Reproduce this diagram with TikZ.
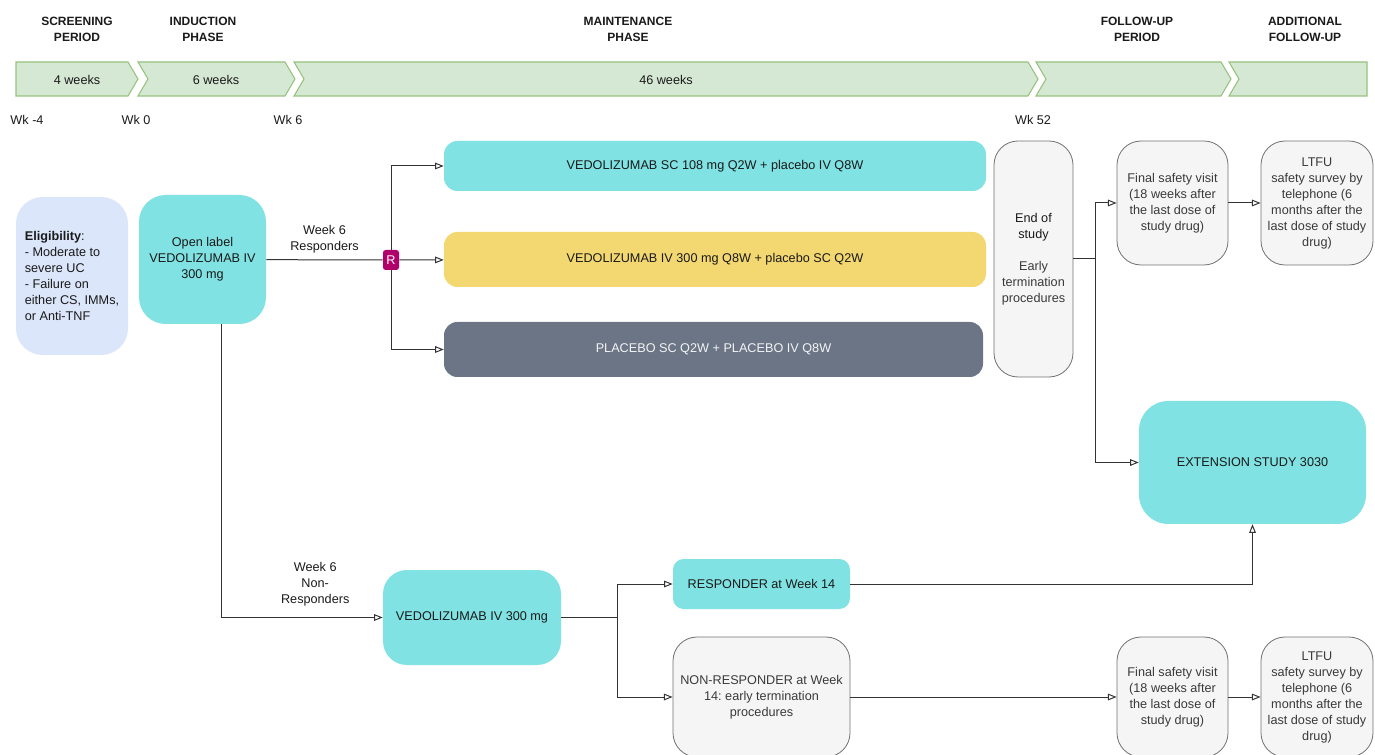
\documentclass[tikz,border=0pt]{standalone}
\usepackage{fontspec}
\setmainfont{Liberation Sans}
\usetikzlibrary{arrows.meta}
\frenchspacing

\definecolor{ink}{HTML}{1A1A1A}
\definecolor{greyink}{HTML}{3A3A3A}
\definecolor{barfill}{HTML}{D5E8D4}
\definecolor{barline}{HTML}{97C27E}
\definecolor{teal}{HTML}{80E2E2}
\definecolor{gold}{HTML}{F3D771}
\definecolor{slate}{HTML}{6B7585}
\definecolor{paleblue}{HTML}{DCE6FA}
\definecolor{offwhite}{HTML}{F5F5F5}
\definecolor{edge}{HTML}{707070}
\definecolor{magenta}{HTML}{B0006A}
\definecolor{wire}{HTML}{333333}

\tikzset{every node/.style={font=\fontsize{9.5}{12}\selectfont,text=ink,inner sep=0pt,align=center}}
\tikzset{head/.style={font=\bfseries\fontsize{9}{12}\selectfont}}
\tikzset{bar/.style={fill=barfill,draw=barline,line width=0.8pt}}
\tikzset{tealbox/.style={fill=teal,draw=none}}
\tikzset{greybox/.style={fill=offwhite,draw=edge,line width=0.6pt,text=greyink,rounded corners=18pt}}
\tikzset{arr/.style={draw=wire,line width=0.75pt,-{Triangle[open,length=6.5pt,width=5pt]}}}
\tikzset{wire/.style={draw=wire,line width=0.75pt}}

\begin{document}
\begin{tikzpicture}[x=0.75pt,y=-0.75pt]
      \useasboundingbox (0,0) rectangle (1375,755);

      % timeline
      \filldraw[bar] (16,62) -- (128,62) -- (138,79) -- (128,96) -- (16,96) -- cycle;
      \filldraw[bar] (138,62) -- (285,62) -- (295,79) -- (285,96) -- (138,96) -- (148,79) -- cycle;
      \filldraw[bar] (294,62) -- (1028,62) -- (1038,79) -- (1028,96) -- (294,96) -- (304,79) -- cycle;
      \filldraw[bar] (1036,62) -- (1221,62) -- (1231,79) -- (1221,96) -- (1036,96) -- (1046,79) -- cycle;
      \filldraw[bar] (1229,62) -- (1367,62) -- (1367,96) -- (1229,96) -- (1239,79) -- cycle;

      \node (scrwk) at (77,80) {4 weeks};
      \node (indwk) at (216,80) {6 weeks};
      \node (mntwk) at (666,80) {46 weeks};

      \node[head] (scr) at (77,29) {SCREENING\\PERIOD};
      \node[head] (ind) at (203,29) {INDUCTION\\PHASE};
      \node[head] (mnt) at (628,29) {MAINTENANCE\\PHASE};
      \node[head] (fu) at (1137,29) {FOLLOW-UP\\PERIOD};
      \node[head] (afu) at (1305,29) {ADDITIONAL\\FOLLOW-UP};

      \node (wkA) at (27,120) {Wk -4};
      \node (wkB) at (136,120) {Wk 0};
      \node (wkC) at (288,120) {Wk 6};
      \node (wkD) at (1033,120) {Wk 52};

      % boxes
      \node[fill=paleblue,rounded corners=20pt,minimum width=84pt,minimum height=118.5pt,align=left] (elig) at (72,276)
        {\textbf{Eligibility}:\\- Moderate to\\severe UC\\- Failure on\\either CS, IMMs,\\or Anti-TNF};
      \node[tealbox,rounded corners=20pt,minimum width=95.25pt,minimum height=96.75pt] (induct) at (202.5,259.5)
        {Open label\\VEDOLIZUMAB IV\\300 mg};
      \node[fill=magenta,rounded corners=2pt,minimum width=12pt,minimum height=15pt,text=white] (rand) at (391,260) {R};

      \node[tealbox,rounded corners=10pt,minimum width=406.5pt,minimum height=37.5pt] (armsc) at (715,166)
        {VEDOLIZUMAB SC 108 mg Q2W + placebo IV Q8W};
      \node[fill=gold,rounded corners=10pt,minimum width=406.5pt,minimum height=41.25pt] (armiv) at (715,259.5)
        {VEDOLIZUMAB IV 300 mg Q8W + placebo SC Q2W};
      \node[fill=slate,rounded corners=10pt,minimum width=404.25pt,minimum height=41.25pt,text=white!92!slate] (armpbo) at (713.5,349.5)
        {PLACEBO SC Q2W + PLACEBO IV Q8W};

      \node[greybox,minimum width=59.25pt,minimum height=177pt] (eos) at (1033.5,259)
        {\textcolor{ink}{End of}\\\textcolor{ink}{study}\\[12pt]Early\\termination\\procedures};
      \node[greybox,minimum width=83.25pt,minimum height=93pt] (fsvA) at (1172.5,203)
        {Final safety visit\\(18 weeks after\\the last dose of\\study drug)};
      \node[greybox,minimum width=84pt,minimum height=93pt] (ltfuA) at (1317,203)
        {LTFU\\safety survey by\\telephone (6\\months after the\\last dose of study\\drug)};
      \node[tealbox,rounded corners=22pt,minimum width=170.25pt,minimum height=92.25pt] (ext) at (1252.5,462.5)
        {EXTENSION STUDY 3030};

      \node[tealbox,rounded corners=18pt,minimum width=133.5pt,minimum height=71.25pt] (vediv) at (472,617.5)
        {VEDOLIZUMAB IV 300 mg};
      \node[tealbox,rounded corners=8pt,minimum width=132.75pt,minimum height=37.5pt] (resp) at (761.5,584)
        {RESPONDER at Week 14};
      \node[greybox,minimum width=132.75pt,minimum height=90pt] (nonresp) at (761.5,697)
        {NON-RESPONDER at Week\\14: early termination\\procedures};
      \node[greybox,minimum width=83.25pt,minimum height=90pt] (fsvB) at (1172.5,697)
        {Final safety visit\\(18 weeks after\\the last dose of\\study drug)};
      \node[greybox,minimum width=84pt,minimum height=90pt] (ltfuB) at (1317,697)
        {LTFU\\safety survey by\\telephone (6\\months after the\\last dose of study\\drug)};

      % connectors
      \draw[wire] (induct) -- node[above=5pt] {Week 6\\Responders} (rand);
      \draw[arr] (rand.north) |- (armsc);
      \draw[arr] (rand) -- (armiv);
      \draw[arr] (rand.south) |- (armpbo);

      \draw[wire] (eos.east) -- ++(22,0) coordinate (split);
      \draw[arr] (split) |- (fsvA);
      \draw[arr] (split) |- (ext);
      \draw[arr] (fsvA) -- (ltfuA);

      \draw[arr] ([xshift=14.6pt]induct.south) |- node[pos=0.79,above=8pt] {Week 6\\Non-\\Responders} (vediv);
      \draw[wire] (vediv.east) -- ++(56,0) coordinate (fork);
      \draw[arr] (fork) |- (resp);
      \draw[arr] (fork) |- (nonresp);
      \draw[arr] (resp) -| (ext);
      \draw[arr] (nonresp) -- (fsvB);
      \draw[arr] (fsvB) -- (ltfuB);
    \end{tikzpicture}
\end{document}
